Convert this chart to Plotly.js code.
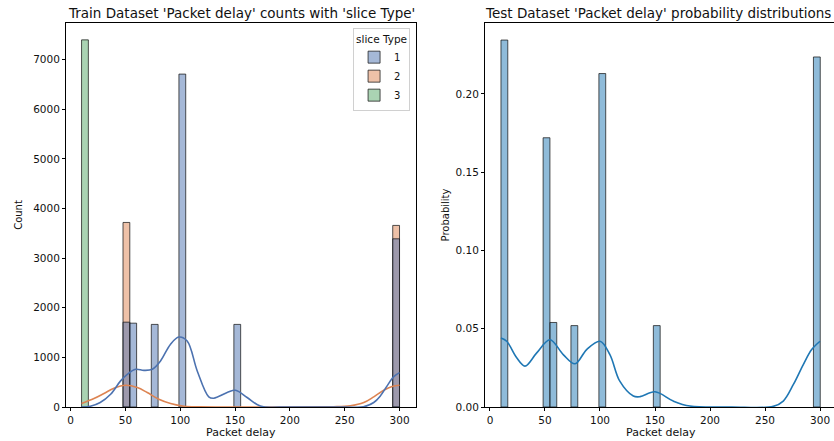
<!DOCTYPE html>
<html><head><meta charset="utf-8">
<script src="https://cdn.plot.ly/plotly-3.0.1.min.js"></script>
<style>html,body{margin:0;padding:0;background:#fff;overflow:hidden}</style>
</head><body><div id="chart" style="width:834px;height:441px"></div>
<script>
// ---- Train dataset (counts per bin, bins given by their left edge) ----
const type1Bins   = [47.8, 54.0, 73.6, 98.8, 148.9, 293.8];
const type1Counts = [1710, 1690, 1665, 6710, 1665, 3390];
const type2Bins   = [47.8, 293.8];
const type2Counts = [3720, 3660];
const type3Bins   = [10];
const type3Counts = [7400];

// KDE curves (train)
const kde1X = [10, 18, 27, 36.5, 45.6, 51.7, 59.3, 66.8, 74.5, 82, 91, 98.7, 106.3, 115.5, 126, 130.6, 142.8, 150.4, 161, 170, 176, 200, 250, 267, 276.5, 282.6, 288.7, 294.7, 300];
const kde1Y = [0, 15, 90, 257, 526, 659, 760, 739, 760, 928, 1261, 1410, 1330, 727, 205, 177, 291, 337, 191, 50, 4, 0, 0, 2, 90, 225, 426, 612, 693];
const kde2X = [10, 21.3, 30.4, 39.5, 50.1, 60.8, 69.9, 80.5, 91.2, 103.3, 118, 150, 200, 230, 240, 255, 267.4, 276.5, 285.6, 293.2, 300];
const kde2Y = [70, 170, 271, 378, 438, 392, 291, 157, 70, 16, 3, 0, 0, 2, 5, 24, 90, 205, 337, 412, 438];

// ---- Test dataset (probability per bin) ----
const testBins  = [10, 48.3, 54.5, 73.6, 99.0, 148.5, 294.0];
const testProb  = [0.2344, 0.1720, 0.0540, 0.0520, 0.2130, 0.0520, 0.2236];
const kdeTX = [10, 15.2, 24.3, 31.8, 42.5, 54.5, 66.6, 77.3, 87.9, 100, 109, 118, 130.3, 136.4, 150, 166.6, 181.8, 220, 257.5, 266.6, 275.8, 284.8, 292.4, 300];
const kdeTY = [0.0441, 0.0420, 0.0314, 0.0261, 0.0346, 0.0430, 0.0335, 0.0276, 0.0367, 0.0420, 0.0335, 0.0165, 0.0070, 0.0066, 0.0097, 0.0038, 0.0006, 0, 0.0004, 0.0038, 0.0144, 0.0271, 0.0367, 0.0420];

const tickVals = [0, 50, 100, 150, 200, 250, 300];
const countTicks = [0, 1000, 2000, 3000, 4000, 5000, 6000, 7000];
const probTicks = [0, 0.05, 0.10, 0.15, 0.20];

const BW = 6.2;
const edge = {color: 'rgba(25,25,25,0.75)', width: 1};
const F = 'DejaVu Sans, sans-serif';

function barTrace(x, y, name, fill, rank) {
  return {type: 'bar', x: x, y: y, name: name, width: BW, offset: 0,
    marker: {color: fill, line: edge}, xaxis: 'x', yaxis: 'y', legendrank: rank, hoverinfo: 'x+y'};
}

const data = [
  barTrace(type3Bins, type3Counts, '3', 'rgba(85,168,104,0.5)', 3),
  barTrace(type2Bins, type2Counts, '2', 'rgba(221,132,82,0.5)', 2),
  barTrace(type1Bins, type1Counts, '1', 'rgba(76,114,176,0.5)', 1),
  {type: 'scatter', mode: 'lines', x: kde2X, y: kde2Y, line: {color: '#dd8452', width: 1.6, shape: 'spline', smoothing: 1}, showlegend: false, xaxis: 'x', yaxis: 'y'},
  {type: 'scatter', mode: 'lines', x: kde1X, y: kde1Y, line: {color: '#4c72b0', width: 1.6, shape: 'spline', smoothing: 1}, showlegend: false, xaxis: 'x', yaxis: 'y'},
  {type: 'bar', x: testBins, y: testProb, width: BW, offset: 0, marker: {color: 'rgba(31,119,180,0.5)', line: edge}, showlegend: false, xaxis: 'x2', yaxis: 'y2'},
  {type: 'scatter', mode: 'lines', x: kdeTX, y: kdeTY, line: {color: '#1f77b4', width: 1.6, shape: 'spline', smoothing: 1}, showlegend: false, xaxis: 'x2', yaxis: 'y2'}
];

const axBase = {showgrid: false, zeroline: false, showline: true, linecolor: '#000', linewidth: 1,
  ticks: 'outside', ticklen: 3, tickwidth: 1, tickcolor: '#000',
  tickfont: {family: F, size: 10.5, color: '#111'}, automargin: false};

const layout = {
  width: 834, height: 441,
  margin: {l: 66, r: 0, t: 23, b: 34},
  paper_bgcolor: '#fff', plot_bgcolor: '#fff',
  barmode: 'overlay', bargap: 0,
  font: {family: F, color: '#111'},
  showlegend: true,
  legend: {x: 0.448, xanchor: 'right', y: 0.987, yanchor: 'top',
    bgcolor: 'rgba(255,255,255,0.8)', bordercolor: '#d0d0d0', borderwidth: 1,
    title: {text: 'slice Type', font: {family: F, size: 10.5}, side: 'top'},
    font: {family: F, size: 10}, traceorder: 'normal', itemwidth: 30},
  xaxis: Object.assign({}, axBase, {domain: [0, 0.4557], range: [-4.2, 315], tickvals: tickVals, mirror: true, anchor: 'y'}),
  yaxis: Object.assign({}, axBase, {range: [0, 7740], tickvals: countTicks, mirror: true, anchor: 'x',
    title: {text: 'Count', font: {family: F, size: 10}, standoff: 8}}),
  xaxis2: Object.assign({}, axBase, {domain: [0.5456, 1], range: [-4.5, 312.7], tickvals: tickVals, mirror: true, anchor: 'y2'}),
  yaxis2: Object.assign({}, axBase, {range: [0, 0.2453], tickvals: probTicks, tickformat: '.2f', mirror: false, anchor: 'x2',
    title: {text: 'Probability', font: {family: F, size: 10}, standoff: 4}}),
  annotations: [
    {text: "Train Dataset 'Packet delay' counts with 'slice Type'", xref: 'paper', yref: 'paper',
      x: 0.2279, xanchor: 'center', y: 1.026, yanchor: 'middle', showarrow: false, font: {family: F, size: 13.5, color: '#111'}},
    {text: "Test Dataset 'Packet delay' probability distributions", xref: 'paper', yref: 'paper',
      x: 0.543, xanchor: 'left', y: 1.026, yanchor: 'middle', showarrow: false, font: {family: F, size: 13.5, color: '#111'}},
    {text: 'Packet delay', xref: 'x domain', yref: 'paper', x: 0.5, xanchor: 'center', y: -0.0677, yanchor: 'middle',
      showarrow: false, font: {family: F, size: 11, color: '#111'}},
    {text: 'Packet delay', xref: 'x2', yref: 'paper', x: 155, xanchor: 'center', y: -0.0677, yanchor: 'middle',
      showarrow: false, font: {family: F, size: 11, color: '#111'}}
  ]
};

Plotly.newPlot('chart', data, layout, {displayModeBar: false, staticPlot: true});
</script></body></html>
